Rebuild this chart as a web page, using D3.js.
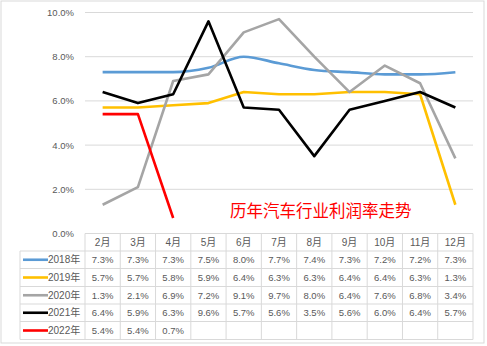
<!DOCTYPE html>
<html><head><meta charset="utf-8">
<script src="https://cdn.jsdelivr.net/npm/d3@7"></script>
<style>body{margin:0;background:#fff;}svg{display:block;}</style>
</head><body>
<script>
const months = ["2月","3月","4月","5月","6月","7月","8月","9月","10月","11月","12月"];
const years = ["2018年","2019年","2020年","2021年","2022年"];
const colors = ["#5B9BD5","#FFC000","#A5A5A5","#000000","#FF0000"];
const v2018 = [7.3,7.3,7.3,7.5,8.0,7.7,7.4,7.3,7.2,7.2,7.3];
const v2019 = [5.7,5.7,5.8,5.9,6.4,6.3,6.3,6.4,6.4,6.3,1.3];
const v2020 = [1.3,2.1,6.9,7.2,9.1,9.7,8.0,6.4,7.6,6.8,3.4];
const v2021 = [6.4,5.9,6.3,9.6,5.7,5.6,3.5,5.6,6.0,6.4,5.7];
const v2022 = [5.4,5.4,0.7];
const yTicks = [0,2,4,6,8,10];
const title = "历年汽车行业利润率走势";
const series = [v2018,v2019,v2020,v2021,v2022];

const W=487,H=346;
const svg=d3.select("body").append("svg").attr("width",W).attr("height",H);
const font="'Liberation Sans','Noto Sans CJK SC',sans-serif";
const txt="#595959", grid="#D9D9D9";

svg.append("rect").attr("x",1).attr("y",1).attr("width",483).attr("height",342)
  .attr("fill","#fff").attr("stroke",grid).attr("stroke-width",1);

const x=d3.scaleBand().domain(months).range([85,473]);
const y=d3.scaleLinear().domain([0,10]).range([233.5,12.5]);

// gridlines
svg.append("g").selectAll("line").data(yTicks).join("line")
  .attr("x1",85).attr("x2",473).attr("y1",d=>y(d)).attr("y2",d=>y(d))
  .attr("stroke",grid).attr("stroke-width",1);

// y axis
const ya=svg.append("g").attr("transform","translate(85,0)")
  .call(d3.axisLeft(y).tickValues(yTicks).tickFormat(d=>d.toFixed(1)+"%").tickSize(0).tickPadding(11));
ya.select(".domain").remove();
ya.selectAll("text").attr("fill",txt).style("font-family",font).style("font-size","9.5px");

// lines
series.forEach((vals,i)=>{
  const line=d3.line().x((d,j)=>x(months[j])+x.bandwidth()/2).y(d=>y(d))
    .curve(i===0?d3.curveMonotoneX:d3.curveLinear);
  svg.append("path").datum(vals).attr("d",line).attr("fill","none")
    .attr("stroke",colors[i]).attr("stroke-width",2.6).attr("stroke-linejoin","round");
});

// title
svg.append("text").attr("x",230).attr("y",216.5).text(title)
  .attr("fill","#FF0000").style("font-family","'Noto Sans CJK SC',sans-serif").style("font-size","16.5px");

// table
const rowB=[233.5,251,268.5,286.5,304,321.5,339.5];
const tg=svg.append("g");
// horizontal lines
rowB.forEach((b,k)=>{
  tg.append("line").attr("x1",k===0?85:20).attr("x2",473).attr("y1",b).attr("y2",b)
    .attr("stroke",grid).attr("stroke-width",1);
});
// vertical lines
const colX=months.map(m=>x(m)).concat([473]);
colX.forEach(cx=>{
  tg.append("line").attr("x1",cx).attr("x2",cx).attr("y1",rowB[0]).attr("y2",rowB[6])
    .attr("stroke",grid).attr("stroke-width",1);
});
tg.append("line").attr("x1",20).attr("x2",20).attr("y1",rowB[1]).attr("y2",rowB[6])
  .attr("stroke",grid).attr("stroke-width",1);

// header
tg.selectAll("text.h").data(months).join("text").attr("class","h")
  .attr("x",d=>x(d)+x.bandwidth()/2).attr("y",(rowB[0]+rowB[1])/2).attr("dy","0.35em")
  .attr("text-anchor","middle").attr("fill",txt).style("font-family",font).style("font-size","10px").text(d=>d);

// rows
years.forEach((yr,i)=>{
  const cy=(rowB[i+1]+rowB[i+2])/2;
  tg.append("line").attr("x1",23).attr("x2",48).attr("y1",cy).attr("y2",cy)
    .attr("stroke",colors[i]).attr("stroke-width",2.6);
  tg.append("text").attr("x",48).attr("y",cy).attr("dy","0.35em").attr("fill",txt)
    .style("font-family",font).style("font-size","10px").text(yr);
  series[i].forEach((v,j)=>{
    tg.append("text").attr("x",x(months[j])+x.bandwidth()/2).attr("y",cy).attr("dy","0.35em")
      .attr("text-anchor","middle").attr("fill",txt).style("font-family",font).style("font-size","9.5px")
      .text(v.toFixed(1)+"%");
  });
});
</script>
</body></html>
